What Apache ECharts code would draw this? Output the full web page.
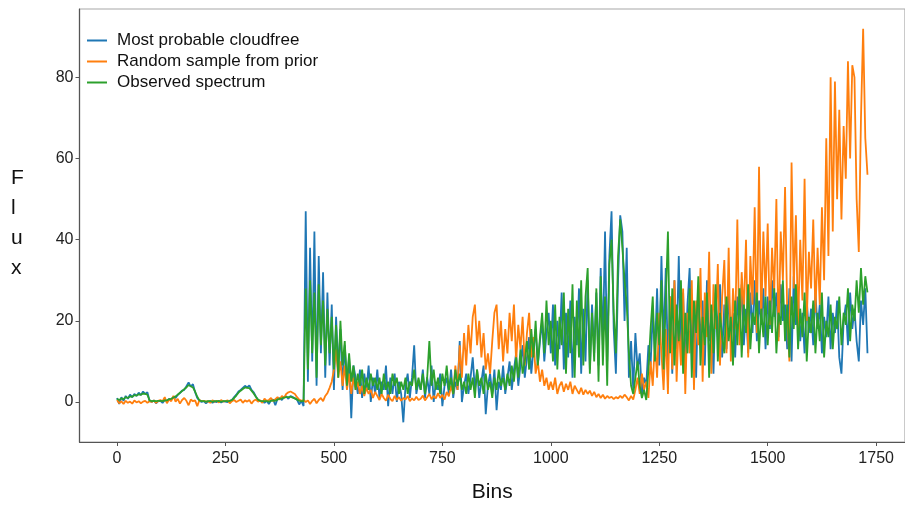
<!DOCTYPE html>
<html>
<head>
<meta charset="utf-8">
<script src="https://cdn.jsdelivr.net/npm/echarts@6/dist/echarts.min.js"></script>
<style>html,body{margin:0;padding:0;background:#fff}#c{width:905px;height:508px}</style>
</head>
<body>
<div id="c"></div>
<script>
// Bin step between sampled points (bins 0,5,10,...,1730)
const BIN_STEP = 5;
const xTicks = [0, 250, 500, 750, 1000, 1250, 1500, 1750];
const yTicks = [0, 20, 40, 60, 80];
const seriesNames = ['Most probable cloudfree', 'Random sample from prior', 'Observed spectrum'];

const cloudfree = [
1.0,-0.5,1.2,0.3,1.5,0.8,1.8,1.2,2.0,1.5,2.3,1.7,2.6,2.0,2.4,0.3,0.0,0.4,-0.3,0.2,
0.3,-0.2,0.5,0.2,0.8,0.6,1.2,1.0,1.8,2.2,2.8,3.0,3.9,4.8,3.8,4.4,2.4,1.0,0.3,0.0,
0.2,-0.3,0.1,0.2,-0.2,0.1,0.0,0.3,-0.1,0.2,0.1,0.0,0.3,0.5,1.2,1.8,2.6,3.0,3.5,4.0,
3.6,4.1,3.0,2.4,1.4,0.5,0.2,0.1,-0.2,0.3,-0.5,0.4,0.6,-0.8,0.8,1.0,0.5,1.2,1.4,0.8,
1.5,1.2,0.9,0.6,-0.6,0.3,-1.0,47,5,38,10,42,4,36,12,32,6,27,9,24,
3,21,8,18,3,14,5,11,-4,9,6,2,8,1,7,3,9,0,6,2,
8,1,5,3,9,-1,6,2,7,0,5,2,-5,4,7,1,6,14,2,5,
3,8,1,6,2,9,0,5,3,7,-1,4,6,2,8,1,5,3,15,0,
4,7,2,6,11,3,8,1,5,9,-3,4,7,2,8,-2,5,3,9,2,
6,10,3,8,12,4,9,14,6,11,16,7,13,18,9,15,20,10,17,22,
12,24,9,20,13,27,8,22,11,25,6,21,14,28,7,23,10,30,8,24,
12,27,9,33,14,42,10,36,47,18,7,30,46,42,20,38,6,15,3,17,
8,12,2,6,4,14,9,22,12,28,9,36,14,33,10,26,7,30,13,36,
10,27,8,24,33,12,22,6,28,14,25,9,30,15,21,7,27,16,29,11,
24,13,27,16,22,11,26,18,29,14,23,12,27,17,30,15,25,19,28,13,
26,18,30,21,27,16,29,20,24,13,28,10,31,19,26,15,22,12,25,17,
23,14,27,18,24,12,21,16,26,13,22,17,25,11,7,20,24,14,27,18,
23,15,10,25,19,28,12
];

const priorSample = [
0.5,-0.3,0.2,-0.5,0.3,-0.2,0.1,-0.4,0.4,-0.1,0.2,-0.3,0.1,0.3,-0.2,0.2,0.0,0.4,-0.2,0.3,
0.5,0.2,1.2,-0.3,0.6,0.2,1.5,0.1,0.8,-0.4,0.5,1.0,0.3,-0.8,0.6,0.2,0.4,-1.0,0.5,0.2,
0.3,0.1,0.2,-0.2,0.4,0.1,0.3,-0.1,0.5,0.1,0.2,0.4,-0.3,0.2,0.5,0.0,0.3,0.6,-0.2,0.4,
0.1,0.5,-0.4,0.3,0.6,0.1,0.4,-0.2,0.8,0.3,0.5,1.0,0.2,0.7,1.2,0.6,1.5,1.0,2.0,2.4,
2.6,2.3,2.0,1.2,0.6,0.3,0.5,0.0,0.4,-0.5,0.3,0.8,-0.3,0.5,1.0,0.2,1.5,2.2,3.5,5.0,
8,13,6,10,4,9,3,7,2,6,3,5,2,4,1.5,3.5,2,3,1,2.5,
1.5,0.5,2,1,0.3,1.8,0.8,0.2,1.5,0.5,1.2,0.3,1.0,0.6,1.5,0.2,0.9,0.4,1.3,0.5,
0.8,1.6,0.4,1.2,2.0,0.7,1.5,0.9,2.2,1.0,1.8,0.6,2.5,1.4,4,2,9,3,14,6,
17,9,19,12,21,24,14,20,11,17,8,12,7,15,22,24,13,20,10,18,
12,22,15,24,10,19,13,21,9,17,22,11,16,7,10,5,8,4,6,3,
5,3,6,2,4,5,2.5,4.5,3,5,2,4,3,2,3.5,1.8,3,2,2.8,1.5,
2.5,1.2,2,1,1.8,0.8,1.5,1.0,1.3,0.7,1.2,0.9,1.5,1.0,1.8,1.2,0.4,1.5,0.6,3,
6,2,7,3,5,1,10,4,15,6,22,12,3,18,2,26,8,30,5,20,
9,28,2,22,12,30,3,25,14,33,5,27,16,37,7,29,18,34,9,26,
35,12,38,10,28,18,45,14,32,22,40,11,36,24,48,17,58,20,42,26,
44,19,38,27,50,15,42,30,53,22,10,59,28,46,18,40,25,55,20,37,
28,45,22,38,24,48,30,65,36,80,42,79,50,72,45,68,55,84,60,83,
80,50,37,70,92,65,56
];

const observed = [
0.8,0.5,0.9,0.7,1.2,1.0,1.4,1.3,1.7,1.6,1.9,1.8,2.1,2.0,1.8,0.4,0.2,0.3,0.2,0.3,
0.3,0.2,0.4,0.4,0.7,0.8,1.1,1.4,1.8,2.3,2.7,3.2,3.6,4.2,3.9,3.6,2.6,1.3,0.4,0.2,
0.2,0.1,0.2,0.2,0.1,0.2,0.2,0.2,0.1,0.2,0.2,0.2,0.3,0.5,1.0,1.6,2.3,2.8,3.2,3.6,
3.5,3.4,2.8,2.1,1.3,0.6,0.3,0.2,0.2,0.2,0.1,0.3,0.4,0.3,0.6,0.8,0.9,1.1,1.2,1.2,
1.3,1.1,0.9,0.6,0.3,0.2,0.2,28,8,30,12,27,6,29,14,25,9,23,12,21,
8,19,6,20,9,15,4,12,5,9,3,7,4,8,2,6,3,7,4,6,
3,6,2,7,3,5,2,7,4,6,2,5,3,6,2,5,4,8,3,6,
3,7,2,6,15,4,8,3,6,2,7,4,9,3,6,2,8,4,7,3,
5,2,7,3,6,1,8,4,6,2,7,3,5,1,6,3,8,4,6,3,
7,4,9,5,11,6,13,7,10,15,8,18,11,20,9,16,22,12,25,14,
20,10,24,8,21,14,27,7,23,12,29,6,25,11,30,9,26,33,7,22,
10,28,5,31,9,26,4,34,40,22,12,36,45,38,30,24,12,4,2,6,
10,4,1,3,0.5,8,18,26,10,22,14,30,8,25,42,12,28,9,24,15,
30,7,22,12,28,6,25,17,31,9,21,14,27,6,24,12,29,10,22,16,
12,26,15,21,9,25,14,28,11,24,17,29,13,22,19,27,12,23,16,26,
14,25,17,28,12,22,19,30,15,24,11,26,18,29,13,23,16,27,10,21,
17,25,12,22,15,27,11,20,16,24,13,21,18,26,14,22,19,28,15,24,
20,30,22,33,24,31,27
];

const bins = cloudfree.map((_, i) => i * BIN_STEP);
const pair = arr => arr.map((v, i) => [bins[i], v]);

const FONT = 'Liberation Sans, Arial, sans-serif';
const chart = echarts.init(document.getElementById('c'), null, {renderer: 'canvas'});
chart.setOption({
  animation: false,
  backgroundColor: '#fff',
  color: ['#1f77b4', '#ff7f0e', '#2ca02c'],
  grid: {left: 79.5, top: 9, right: -8.5, bottom: 66, show: true, borderColor: '#a8a8a8', borderWidth: 1.2, containLabel: false},
  legend: {
    orient: 'vertical', left: 82, top: 27, itemWidth: 20, itemHeight: 2, itemGap: 4,
    icon: 'rect',
    textStyle: {fontFamily: FONT, fontSize: 17, color: '#111', lineHeight: 17, padding: [0, 0, 0, 5]},
    data: seriesNames
  },
  xAxis: {
    type: 'value', min: -86.5, max: 1816.5,
    name: 'Bins', nameLocation: 'middle', nameGap: 40,
    nameTextStyle: {fontFamily: FONT, fontSize: 21, color: '#111'},
    axisLine: {show: true, onZero: false, lineStyle: {color: '#555', width: 1.2}},
    axisTick: {show: true, customValues: xTicks, length: 4, lineStyle: {color: '#555'}},
    axisLabel: {customValues: xTicks, formatter: v => String(v), fontFamily: FONT, fontSize: 16, color: '#222', margin: 9},
    splitLine: {show: false}
  },
  yAxis: {
    type: 'value', min: -9.85, max: 96.85,
    axisLine: {show: true, onZero: false, lineStyle: {color: '#555', width: 1.2}},
    axisTick: {show: true, customValues: yTicks, length: 4, lineStyle: {color: '#555'}},
    axisLabel: {customValues: yTicks, formatter: v => String(v), fontFamily: FONT, fontSize: 16, color: '#222', margin: 6},
    splitLine: {show: false}
  },
  graphic: [{
    type: 'text', left: 11, top: 163,
    style: {text: 'F\nl\nu\nx', font: '21px ' + FONT, lineHeight: 30, fill: '#111', align: 'center'}
  }],
  series: [
    {name: seriesNames[0], type: 'line', data: pair(cloudfree), showSymbol: false, lineStyle: {width: 1.8}, z: 2},
    {name: seriesNames[1], type: 'line', data: pair(priorSample), showSymbol: false, lineStyle: {width: 1.8}, z: 3},
    {name: seriesNames[2], type: 'line', data: pair(observed), showSymbol: false, lineStyle: {width: 1.8}, z: 4}
  ]
});
</script>
</body>
</html>
